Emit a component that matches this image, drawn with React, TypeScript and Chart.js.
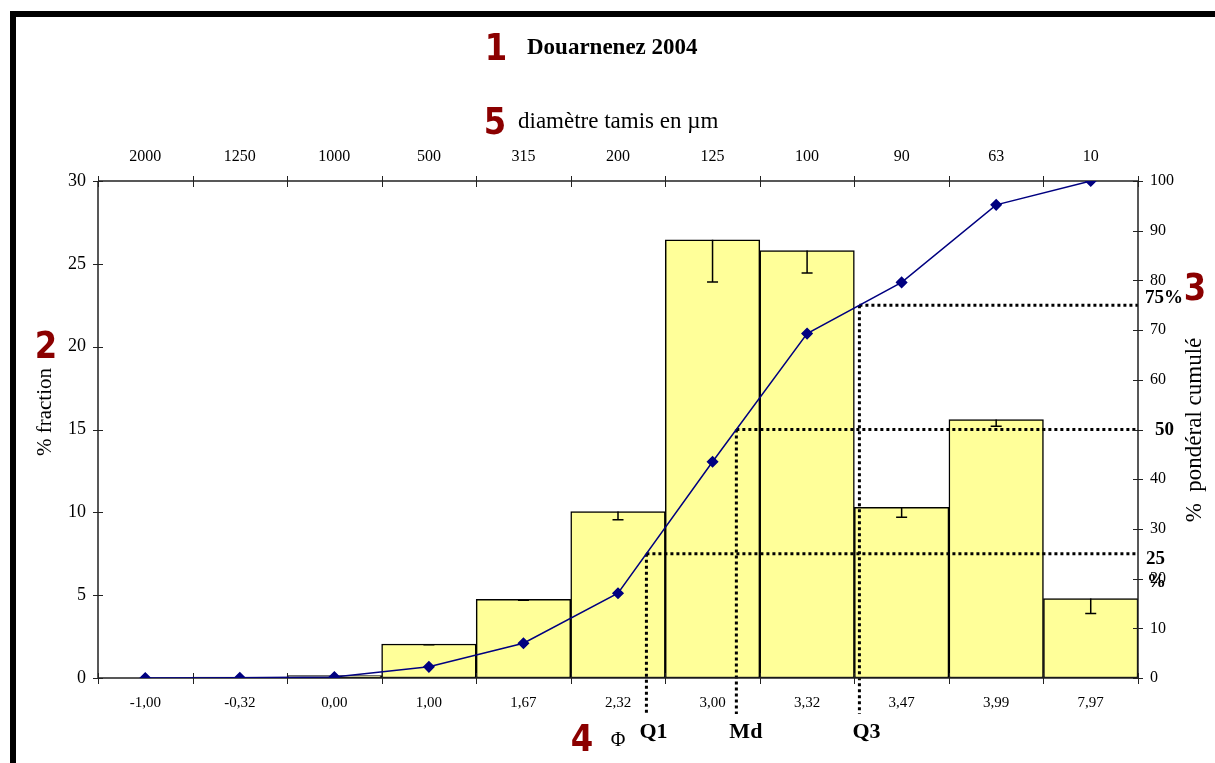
import React, { useEffect, useRef } from 'react';
import { Chart, registerables } from 'chart.js';

Chart.register(...registerables);

// ---- data ----
const phiLabels = ['-1,00', '-0,32', '0,00', '1,00', '1,67', '2,32', '3,00', '3,32', '3,47', '3,99', '7,97'];
const sieveLabels = ['2000', '1250', '1000', '500', '315', '200', '125', '100', '90', '63', '10'];
const fractionValues = [0, 0.05, 0.15, 2.05, 4.75, 10.05, 26.45, 25.8, 10.3, 15.6, 4.8];
const fractionErrors = [0, 0, 0, 0.05, 0.05, 0.5, 2.55, 1.35, 0.6, 0.4, 0.9];
const cumulativeValues = [0, 0.05, 0.2, 2.25, 7.0, 17.05, 43.5, 69.3, 79.6, 95.2, 100];
const quartileLevels = [25, 50, 75];
const quartileNames = ['Q1', 'Md', 'Q3'];

const SERIF = "'Liberation Serif', 'Times New Roman', serif";
const SANS_BOLD = "'DejaVu Sans', 'Liberation Sans', sans-serif";
const RED = '#8b0000';

function drawText(
  ctx: CanvasRenderingContext2D,
  s: string,
  x: number,
  y: number,
  font: string,
  align: CanvasTextAlign = 'left',
  color = '#000',
  rotate = 0,
  scaleX = 1
) {
  ctx.save();
  ctx.font = font;
  ctx.fillStyle = color;
  ctx.textAlign = align;
  ctx.textBaseline = 'middle';
  ctx.translate(x, y);
  if (rotate) ctx.rotate(rotate);
  if (scaleX !== 1) ctx.scale(scaleX, 1);
  ctx.fillText(s, 0, 0);
  ctx.restore();
}

function redNumber(ctx: CanvasRenderingContext2D, s: string, x: number, y: number) {
  drawText(ctx, s, x, y + 3, `bold 38px ${SANS_BOLD}`, 'center', RED, 0, 0.85);
}

function quartileX(chart: any, level: number) {
  const xs = chart.scales.x;
  for (let i = 0; i < cumulativeValues.length - 1; i++) {
    const a = cumulativeValues[i];
    const b = cumulativeValues[i + 1];
    if (level >= a && level <= b) {
      const f = (level - a) / (b - a);
      const xa = xs.getPixelForValue(i);
      const xb = xs.getPixelForValue(i + 1);
      return xa + f * (xb - xa);
    }
  }
  return xs.getPixelForValue(cumulativeValues.length - 1);
}

const decorPlugin = {
  id: 'decor',
  beforeDraw(chart: any) {
    const ctx = chart.ctx as CanvasRenderingContext2D;
    ctx.save();
    ctx.fillStyle = '#fff';
    ctx.fillRect(0, 0, chart.width, chart.height);
    ctx.fillStyle = '#000';
    ctx.fillRect(10, 11, chart.width - 10, 6);
    ctx.fillRect(10, 11, 6, chart.height - 11);
    ctx.restore();
  },
  beforeDatasetDraw(chart: any, args: any) {
    if (args.index !== 1) return;
    const ctx = chart.ctx as CanvasRenderingContext2D;
    const xs = chart.scales.x;
    const ys = chart.scales.y;
    const y1 = chart.scales.y1;
    const { left, right, top, bottom } = chart.chartArea;

    // error bars (downward)
    ctx.save();
    ctx.strokeStyle = '#000';
    ctx.lineWidth = 1.5;
    fractionValues.forEach((v, i) => {
      const e = fractionErrors[i];
      if (!e) return;
      const x = xs.getPixelForValue(i);
      const yT = ys.getPixelForValue(v);
      const yB = ys.getPixelForValue(v - e);
      ctx.beginPath();
      ctx.moveTo(x, yT);
      ctx.lineTo(x, yB);
      ctx.moveTo(x - 5.5, yB);
      ctx.lineTo(x + 5.5, yB);
      ctx.stroke();
    });
    ctx.restore();

    // quartile dotted lines
    ctx.save();
    ctx.strokeStyle = '#000';
    ctx.lineWidth = 3;
    ctx.setLineDash([3, 3]);
    quartileLevels.forEach((L) => {
      const qx = quartileX(chart, L);
      const qy = y1.getPixelForValue(L);
      ctx.beginPath();
      ctx.moveTo(qx, qy);
      ctx.lineTo(right, qy);
      ctx.moveTo(qx, qy);
      ctx.lineTo(qx, bottom + 36);
      ctx.stroke();
    });
    ctx.restore();

    // axes and tick marks
    ctx.save();
    ctx.strokeStyle = '#222';
    ctx.lineWidth = 1.5;
    ctx.beginPath();
    ctx.moveTo(left, top);
    ctx.lineTo(left, bottom);
    ctx.moveTo(right, top);
    ctx.lineTo(right, bottom);
    ctx.moveTo(left, top);
    ctx.lineTo(right, top);
    ctx.moveTo(left, bottom);
    ctx.lineTo(right, bottom);
    ctx.stroke();
    ctx.lineWidth = 1;
    ctx.beginPath();
    for (let v = 0; v <= 30; v += 5) {
      const y = Math.round(ys.getPixelForValue(v)) + 0.5;
      ctx.moveTo(left - 5, y);
      ctx.lineTo(left + 5, y);
    }
    for (let v = 0; v <= 100; v += 10) {
      const y = Math.round(y1.getPixelForValue(v)) + 0.5;
      ctx.moveTo(right - 5, y);
      ctx.lineTo(right + 5, y);
    }
    const n = phiLabels.length;
    const cw = (right - left) / n;
    for (let k = 0; k <= n; k++) {
      const x = Math.round(left + k * cw) + 0.5;
      ctx.moveTo(x, bottom - 5);
      ctx.lineTo(x, bottom + 6);
      ctx.moveTo(x, top - 5);
      ctx.lineTo(x, top + 6);
    }
    ctx.stroke();
    ctx.restore();
  },
  afterDraw(chart: any) {
    const ctx = chart.ctx as CanvasRenderingContext2D;
    const y1 = chart.scales.y1;
    const { right, bottom } = chart.chartArea;

    drawText(ctx, 'Douarnenez 2004', 527, 48, `bold 23px ${SERIF}`);
    drawText(ctx, 'diamètre tamis en µm', 518, 122, `23px ${SERIF}`);
    drawText(ctx, '% fraction', 45, 412, `21px ${SERIF}`, 'center', '#000', -Math.PI / 2);
    drawText(ctx, '%  pondéral cumulé', 1195, 430, `23px ${SERIF}`, 'center', '#000', -Math.PI / 2);
    drawText(ctx, 'Φ', 618, 741, `20px ${SERIF}`, 'center');

    // quartile labels
    quartileLevels.forEach((L, i) => {
      const qx = quartileX(chart, L);
      drawText(ctx, quartileNames[i], qx - 7, bottom + 54, `bold 22px ${SERIF}`);
    });
    const bold = `bold 19px ${SERIF}`;
    drawText(ctx, '75%', right + 7, y1.getPixelForValue(75) - 7, bold);
    const y50 = y1.getPixelForValue(50);
    ctx.save();
    ctx.fillStyle = '#fff';
    ctx.fillRect(right + 8, y50 - 10, 34, 20);
    ctx.restore();
    drawText(ctx, '50', right + 17, y50 + 1, bold);
    drawText(ctx, '25', right + 8, y1.getPixelForValue(25) + 5, bold);
    drawText(ctx, '%', right + 9, y1.getPixelForValue(25) + 28, bold);

    redNumber(ctx, '1', 496, 47);
    redNumber(ctx, '5', 495, 121);
    redNumber(ctx, '2', 46, 345);
    redNumber(ctx, '3', 1195, 287);
    redNumber(ctx, '4', 582, 738);
  },
};

export default function App() {
  const canvasRef = useRef<HTMLCanvasElement | null>(null);

  useEffect(() => {
    const canvas = canvasRef.current;
    if (!canvas) return;
    const tickFont = (size: number) => ({ family: SERIF, size });
    const chart = new Chart(canvas, {
      type: 'bar',
      data: {
        labels: phiLabels,
        datasets: [
          {
            type: 'bar',
            data: fractionValues,
            backgroundColor: '#FFFF99',
            borderColor: '#000',
            borderWidth: 1.5,
            borderSkipped: false,
            barPercentage: 1,
            categoryPercentage: 1,
            xAxisID: 'x',
            yAxisID: 'y',
            order: 1,
          } as any,
          {
            type: 'line',
            data: cumulativeValues,
            borderColor: '#000080',
            backgroundColor: '#000080',
            borderWidth: 1.5,
            pointStyle: 'rectRot',
            pointRadius: 5,
            pointBackgroundColor: '#000080',
            pointBorderColor: '#000080',
            tension: 0,
            xAxisID: 'x',
            yAxisID: 'y1',
            order: 0,
          } as any,
        ],
      },
      options: {
        responsive: false,
        animation: false,
        layout: { padding: 0 },
        plugins: { legend: { display: false }, tooltip: { enabled: false }, title: { display: false } },
        scales: {
          x: {
            type: 'category',
            position: 'bottom',
            offset: true,
            grid: { display: false, drawTicks: false },
            border: { display: false },
            ticks: { color: '#000', font: tickFont(15), padding: 16, maxRotation: 0, autoSkip: false },
            afterFit: (s: any) => { s.height = 85; },
          },
          x2: {
            type: 'category',
            position: 'top',
            labels: sieveLabels,
            offset: true,
            grid: { display: false, drawTicks: false },
            border: { display: false },
            ticks: { color: '#000', font: tickFont(16), padding: 15, maxRotation: 0, autoSkip: false },
            afterFit: (s: any) => { s.height = 181; },
          },
          y: {
            position: 'left',
            min: 0,
            max: 30,
            grid: { display: false, drawTicks: false },
            border: { display: false },
            ticks: { stepSize: 5, color: '#000', font: tickFont(18), padding: 12 },
            afterFit: (s: any) => { s.width = 98; },
          },
          y1: {
            position: 'right',
            min: 0,
            max: 100,
            grid: { display: false, drawTicks: false },
            border: { display: false },
            ticks: { stepSize: 10, color: '#000', font: tickFont(16), padding: 12 },
            afterFit: (s: any) => { s.width = 77; },
          },
        },
      } as any,
      plugins: [decorPlugin],
    });
    return () => chart.destroy();
  }, []);

  return (
    <div style={{ position: 'fixed', left: 0, top: 0, width: 1215, height: 763, background: '#fff' }}>
      <canvas ref={canvasRef} width={1215} height={763} style={{ display: 'block' }} />
    </div>
  );
}
